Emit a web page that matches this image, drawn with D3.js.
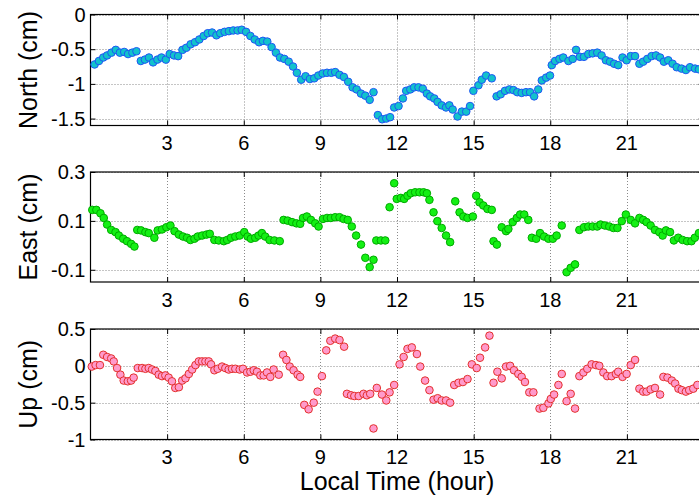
<html>
<head>
<script src="https://d3js.org/d3.v7.min.js"></script>
<style>
body { margin: 0; background: #fff; }
svg { font-family: 'Liberation Sans', Arial, sans-serif; }
.grid line { stroke: #8a8a8a; stroke-width: 1; stroke-dasharray: 1,2; }
</style>
</head>
<body>
<div id="plot"></div>
<script>

// hours, one array per panel
var northTime = [0.16,0.33,0.50,0.65,0.82,0.99,1.15,1.32,1.47,1.64,1.80,1.97,2.13,2.29,2.45,2.62,2.78,2.95,3.10,3.27,3.43,3.60,3.75,3.92,4.09,4.26,4.43,4.59,4.76,4.93,5.08,5.25,5.42,5.59,5.76,5.92,6.09,6.26,6.43,6.60,6.75,6.92,7.09,7.26,7.42,7.59,7.76,7.93,8.08,8.25,8.42,8.59,8.76,8.92,9.09,9.26,9.43,9.58,9.75,9.92,10.09,10.26,10.42,10.59,10.76,10.93,11.08,11.25,11.42,11.58,11.73,
  11.89,12.06,12.23,12.36,12.52,12.67,12.84,13.01,13.17,13.30,13.46,13.59,13.75,13.92,14.05,14.18,14.37,14.54,14.71,14.86,14.99,15.19,15.32,15.49,15.71,15.90,16.06,16.23,16.40,16.56,16.71,16.88,17.05,17.21,17.37,17.53,17.67,17.84,17.99,18.06,18.19,18.36,18.51,18.71,18.88,19.01,19.16,19.32,19.49,19.66,19.84,20.01,20.18,20.34,20.50,20.66,20.83,20.99,21.15,21.32,21.49,21.64,21.80,21.97,22.14,22.30,22.45,22.62,22.79,22.95,23.14,23.31,23.47,23.67,23.82];
var northValue = [-0.72,-0.67,-0.62,-0.59,-0.55,-0.51,-0.55,-0.54,-0.57,-0.55,-0.53,-0.67,-0.65,-0.62,-0.69,-0.65,-0.62,-0.65,-0.57,-0.59,-0.60,-0.51,-0.48,-0.43,-0.40,-0.36,-0.31,-0.27,-0.26,-0.30,-0.27,-0.25,-0.24,-0.23,-0.23,-0.22,-0.25,-0.31,-0.36,-0.40,-0.38,-0.39,-0.47,-0.55,-0.62,-0.64,-0.68,-0.75,-0.84,-0.94,-0.89,-0.93,-0.92,-0.88,-0.85,-0.84,-0.84,-0.83,-0.87,-0.90,-0.97,-1.05,-1.08,-1.14,-1.17,-1.23,-1.12,-1.45,-1.51,-1.50,-1.48,
  -1.34,-1.32,-1.21,-1.10,-1.08,-1.05,-1.05,-1.07,-1.14,-1.18,-1.21,-1.26,-1.31,-1.34,-1.31,-1.37,-1.47,-1.40,-1.40,-1.32,-1.10,-1.02,-0.94,-0.88,-0.92,-1.18,-1.15,-1.10,-1.08,-1.09,-1.12,-1.13,-1.12,-1.12,-1.18,-1.08,-0.95,-0.91,-0.88,-0.73,-0.67,-0.64,-0.62,-0.67,-0.64,-0.51,-0.61,-0.61,-0.57,-0.56,-0.55,-0.59,-0.66,-0.68,-0.71,-0.73,-0.62,-0.66,-0.60,-0.60,-0.71,-0.68,-0.64,-0.60,-0.59,-0.62,-0.68,-0.66,-0.71,-0.76,-0.78,-0.80,-0.76,-0.78,-0.79];

var eastTime = [0.07,0.23,0.39,0.52,0.65,0.81,0.98,1.11,1.28,1.43,1.59,1.72,1.83,1.98,2.15,2.28,2.50,2.63,2.80,2.97,3.13,3.29,3.46,3.62,3.78,3.91,4.07,4.20,4.37,4.54,4.67,4.85,5.02,5.22,5.35,5.50,5.67,5.84,6.02,6.15,6.28,6.45,6.58,6.71,6.84,7.01,7.20,7.41,7.56,7.72,7.89,8.06,8.21,8.32,8.47,8.63,8.80,8.93,9.10,9.26,9.41,9.58,9.75,9.91,10.07,10.23,10.40,10.59,10.76,10.93,11.08,11.19,11.37,11.54,11.71,
  11.89,11.99,12.15,12.28,12.41,12.54,12.71,12.88,13.04,13.17,13.27,13.43,13.58,13.75,13.92,14.08,14.28,14.45,14.60,14.76,14.97,15.10,15.23,15.38,15.54,15.71,15.78,15.91,16.10,16.27,16.36,16.53,16.69,16.82,16.98,17.14,17.28,17.45,17.60,17.76,17.93,18.10,18.25,18.45,18.64,18.80,18.97,19.14,19.32,19.49,19.66,19.84,19.97,20.14,20.31,20.47,20.63,20.80,20.96,21.15,21.32,21.49,21.64,21.77,21.93,22.10,22.27,22.40,22.53,22.69,22.84,23.01,23.18,23.36,23.53,23.66,23.82];
var eastValue = [0.145,0.145,0.131,0.112,0.085,0.063,0.054,0.040,0.027,0.017,0.006,-0.005,0.063,0.061,0.054,0.050,0.031,0.061,0.065,0.074,0.081,0.058,0.044,0.036,0.031,0.022,0.027,0.036,0.040,0.044,0.047,0.022,0.020,0.017,0.022,0.031,0.036,0.040,0.054,0.036,0.027,0.031,0.040,0.050,0.036,0.022,0.020,0.017,0.104,0.101,0.095,0.090,0.088,0.112,0.118,0.104,0.090,0.077,0.108,0.112,0.112,0.115,0.115,0.108,0.104,0.077,0.040,0.003,-0.051,-0.089,-0.059,0.020,0.020,0.020,0.156,
  0.254,0.190,0.194,0.190,0.203,0.213,0.217,0.217,0.217,0.213,0.186,0.135,0.099,0.071,0.040,0.013,0.180,0.135,0.118,0.112,0.118,0.203,0.176,0.163,0.149,0.145,0.017,0.003,0.074,0.058,0.067,0.095,0.112,0.126,0.126,0.104,0.031,0.027,0.050,0.036,0.027,0.027,0.040,0.081,-0.110,-0.092,-0.078,0.063,0.074,0.077,0.077,0.077,0.085,0.081,0.077,0.071,0.071,0.099,0.126,0.104,0.090,0.112,0.104,0.095,0.081,0.063,0.054,0.040,0.061,0.054,0.020,0.031,0.022,0.017,0.017,0.031,0.050];

var upTime = [0.05,0.20,0.37,0.50,0.65,0.81,0.91,1.04,1.17,1.30,1.46,1.59,1.69,1.85,2.02,2.15,2.28,2.41,2.54,2.67,2.80,2.93,3.06,3.19,3.32,3.46,3.59,3.72,3.85,3.98,4.11,4.24,4.37,4.50,4.63,4.72,4.85,4.98,5.15,5.28,5.41,5.54,5.67,5.84,5.97,6.13,6.26,6.39,6.52,6.65,6.78,6.91,7.04,7.17,7.37,7.54,7.67,7.80,7.95,8.11,8.21,8.37,8.54,8.74,8.89,9.06,9.23,9.39,9.58,9.75,9.93,10.04,10.20,10.33,10.50,10.69,10.82,10.95,11.08,11.21,11.41,11.58,11.71,
  11.89,12.10,12.26,12.41,12.58,12.78,12.91,13.10,13.27,13.43,13.59,13.75,13.92,14.08,14.24,14.41,14.58,14.76,14.93,15.12,15.25,15.45,15.62,15.78,15.93,16.10,16.27,16.43,16.58,16.75,16.88,17.01,17.18,17.34,17.58,17.73,17.93,18.02,18.15,18.32,18.45,18.64,18.80,18.97,19.14,19.30,19.45,19.62,19.79,19.92,20.08,20.23,20.40,20.57,20.66,20.83,20.99,21.15,21.32,21.49,21.64,21.77,21.93,22.10,22.30,22.43,22.59,22.76,22.89,23.02,23.15,23.31,23.44,23.60,23.76];
var upValue = [-0.01,0.01,0.01,0.15,0.12,0.10,0.06,-0.03,-0.12,-0.20,-0.21,-0.20,-0.16,-0.03,-0.03,-0.04,-0.03,-0.05,-0.07,-0.12,-0.14,-0.13,-0.16,-0.21,-0.30,-0.29,-0.20,-0.17,-0.11,-0.05,0.01,0.06,0.06,0.06,0.06,0.02,-0.06,-0.04,-0.01,-0.03,-0.05,-0.04,-0.04,-0.05,-0.04,-0.09,-0.08,-0.06,-0.08,-0.13,-0.13,-0.09,-0.15,-0.05,-0.12,0.15,0.08,-0.01,-0.06,-0.12,-0.15,-0.53,-0.59,-0.50,-0.35,-0.14,0.21,0.34,0.37,0.35,0.26,-0.38,-0.40,-0.41,-0.41,-0.38,-0.40,-0.38,-0.85,-0.30,-0.39,-0.47,-0.36,
  -0.26,0.02,0.12,0.23,0.25,0.16,-0.01,-0.20,-0.33,-0.46,-0.44,-0.47,-0.47,-0.50,-0.26,-0.23,-0.22,-0.18,0.02,-0.03,0.11,0.25,0.41,-0.23,-0.08,-0.17,-0.01,0.00,-0.06,-0.11,-0.15,-0.22,-0.36,-0.36,-0.58,-0.57,-0.51,-0.45,-0.39,-0.26,-0.11,-0.48,-0.38,-0.58,-0.14,-0.09,-0.04,0.02,0.01,0.00,-0.09,-0.14,-0.14,-0.11,-0.08,-0.15,-0.11,0.01,0.08,-0.31,-0.35,-0.35,-0.32,-0.30,-0.39,-0.15,-0.16,-0.20,-0.24,-0.31,-0.33,-0.35,-0.33,-0.31,-0.26];

var hourTicks = [3, 6, 9, 12, 15, 18, 21];
var northTicks = [0, -0.5, -1, -1.5];
var eastTicks = [0.3, 0.1, -0.1];
var upTicks = [0.5, 0, -0.5, -1];

var width = 699;
var height = 498;
var left = 90.5;
var right = 703.5; // the figure is cropped, so 24 h falls off the picture
var tickLen = 5;

var panels = [
  { label: "North (cm)", time: northTime, value: northValue, ticks: northTicks,
    domain: [-1.6, 0], top: 14.5, bottom: 125.5, fill: "#12C2CC", stroke: "#1E55F5" },
  { label: "East (cm)", time: eastTime, value: eastValue, ticks: eastTicks,
    domain: [-0.15, 0.3], top: 172, bottom: 282, fill: "#14F014", stroke: "#00AA00" },
  { label: "Up (cm)", time: upTime, value: upValue, ticks: upTicks,
    domain: [-1, 0.5], top: 329, bottom: 439.5, fill: "#FF9ACB", stroke: "#E4302C" }
];

var svg = d3.select("#plot").append("svg")
.attr("width", width).attr("height", height);

var xScale = d3.scaleLinear().domain([0, 24]).range([left, right]);

panels.forEach(function (p) {
  var yScale = d3.scaleLinear().domain(p.domain).range([p.bottom, p.top]);
  var g = svg.append("g");

  // dotted grid
  var grid = g.append("g").attr("class", "grid");
  grid.selectAll(".gx").data(hourTicks).enter().append("line")
  .attr("x1", function (d) { return Math.round(xScale(d)) + 0.5; })
  .attr("x2", function (d) { return Math.round(xScale(d)) + 0.5; })
  .attr("y1", p.top).attr("y2", p.bottom);
  grid.selectAll(".gy").data(p.ticks).enter().append("line")
  .attr("x1", left).attr("x2", right)
  .attr("y1", function (d) { return Math.round(yScale(d)) + 0.5; })
  .attr("y2", function (d) { return Math.round(yScale(d)) + 0.5; });

  // inward ticks on all four sides
  g.append("g").attr("transform", "translate(0," + p.bottom + ")")
  .call(d3.axisBottom(xScale).tickValues(hourTicks).tickSizeInner(-tickLen).tickSizeOuter(0).tickFormat(""));
  g.append("g").attr("transform", "translate(0," + p.top + ")")
  .call(d3.axisTop(xScale).tickValues(hourTicks).tickSizeInner(-tickLen).tickSizeOuter(0).tickFormat(""));
  g.append("g").attr("transform", "translate(" + left + ",0)")
  .call(d3.axisLeft(yScale).tickValues(p.ticks).tickSizeInner(-tickLen).tickSizeOuter(0).tickFormat(""));
  g.append("g").attr("transform", "translate(" + right + ",0)")
  .call(d3.axisRight(yScale).tickValues(p.ticks).tickSizeInner(-tickLen).tickSizeOuter(0).tickFormat(""));
  g.selectAll(".domain").remove();
  g.selectAll(".tick line").attr("stroke", "#000");

  g.append("rect")
  .attr("x", left).attr("y", p.top)
  .attr("width", right - left).attr("height", p.bottom - p.top)
  .attr("fill", "none").attr("stroke", "#000").attr("stroke-width", 1.2);

  // tick labels
  g.selectAll(".ylab").data(p.ticks).enter().append("text")
  .attr("x", left - 5).attr("y", function (d) { return yScale(d); })
  .attr("dy", "0.36em").attr("text-anchor", "end")
  .style("font-size", "20px").text(function (d) { return String(d); });
  g.selectAll(".xlab").data(hourTicks).enter().append("text")
  .attr("x", function (d) { return xScale(d); }).attr("y", p.bottom + 24.5)
  .attr("text-anchor", "middle")
  .style("font-size", "20px").text(function (d) { return d; });

  g.append("text")
  .attr("transform", "translate(37," + (p.top + p.bottom) / 2 + ") rotate(-90)")
  .attr("text-anchor", "middle").style("font-size", "25px").text(p.label);

  // markers
  var points = d3.zip(p.time, p.value);
  g.selectAll("circle").data(points).enter().append("circle")
  .attr("cx", function (d) { return xScale(d[0]); })
  .attr("cy", function (d) { return yScale(d[1]); })
  .attr("r", 3.8)
  .attr("fill", p.fill).attr("stroke", p.stroke).attr("stroke-width", 1);
});

svg.append("text")
.attr("x", (left + right) / 2).attr("y", 490)
.attr("text-anchor", "middle").style("font-size", "25px")
.text("Local Time (hour)");

</script>
</body>
</html>
